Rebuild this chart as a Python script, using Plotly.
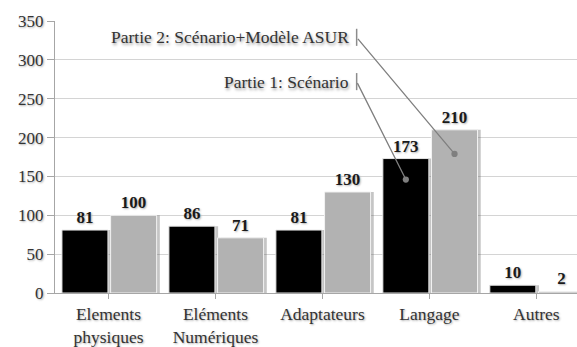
import plotly.graph_objects as go

categories = ["Elements<br>physiques", "Eléments<br>Numériques", "Adaptateurs", "Langage", "Autres"]
partie1 = [81, 86, 81, 173, 10]
partie2 = [100, 71, 130, 210, 2]
series_names = ["Partie 1: Scénario", "Partie 2: Scénario+Modèle ASUR"]
y_ticks = [0, 50, 100, 150, 200, 250, 300, 350]

serif = "Liberation Serif"
soft_shadow = "1px 1px 2px #b0b0b0"
label_font = dict(family=serif, size=17, color="#1a1a1a", weight="bold", shadow=soft_shadow)

xs = list(range(len(categories)))
bar_w = 0.43
series = [
    (partie1, series_names[0], "#000000", "#e6e6e6", -0.435),
    (partie2, series_names[1], "#b2b2b2", "#f2f2f2", 0.02),
]

fig = go.Figure()
# soft drop shadows behind each bar
for vals, name, color, edge, off in series:
    fig.add_trace(go.Bar(
        x=xs, y=vals, width=bar_w, offset=off + 0.03, hoverinfo="skip",
        marker=dict(color="rgba(90,90,90,0.35)", line=dict(width=0)),
    ))
for vals, name, color, edge, off in series:
    fig.add_trace(go.Bar(
        x=xs, y=vals, name=name, width=bar_w, offset=off,
        marker=dict(color=color, line=dict(color=edge, width=1)),
        text=[str(v) for v in vals], textposition="outside",
        textfont=label_font, cliponaxis=False,
    ))

# Callout labels pointing at the "Langage" bars
lang = categories.index("Langage")
callout_x = lang - 0.68
callouts = [
    (series_names[1], lang + 0.235, 179, 329),
    (series_names[0], lang - 0.22, 146, 272),
]
for text, xt, yt, ylab in callouts:
    fig.add_annotation(
        x=xt, y=yt, xref="x", yref="y",
        ax=callout_x, ay=ylab, axref="x", ayref="y",
        text="", showarrow=True, arrowhead=6, arrowsize=1.2,
        arrowwidth=1.3, arrowcolor="#7f7f7f", standoff=0, startstandoff=0,
    )
    fig.add_shape(type="line", xref="x", yref="y",
                  x0=callout_x, x1=callout_x, y0=ylab - 11, y1=ylab + 11,
                  line=dict(color="#8c8c8c", width=1.5))
    fig.add_annotation(
        x=callout_x - 0.05, y=ylab, xref="x", yref="y", xanchor="right",
        yanchor="middle", text=text, showarrow=False,
        font=dict(family=serif, size=17.5, color="#333333", shadow="1px 2px 3px #9a9a9a"),
    )

fig.update_layout(
    width=577, height=347,
    margin=dict(l=55, r=0, t=21, b=51),
    paper_bgcolor="white", plot_bgcolor="white",
    barmode="overlay",
    showlegend=False,
    font=dict(family=serif, size=17, color="#333333"),
)
fig.update_xaxes(
    tickmode="array", tickvals=xs, ticktext=categories,
    range=[-0.5, 4.38], showgrid=False, showline=True, linecolor="#a6a6a6",
    ticks="outside", ticklen=5, tickcolor="#a6a6a6", tickson="boundaries",
    tickfont=dict(family=serif, size=17.5, color="#333333", shadow=soft_shadow),
)
fig.update_yaxes(
    range=[0, 350], tickvals=y_ticks, showgrid=True, gridcolor="#d4d4d4",
    showline=True, linecolor="#a6a6a6", ticks="outside", ticklen=7,
    tickcolor="#a6a6a6", zeroline=False,
    tickfont=dict(family=serif, size=17, color="#333333", shadow=soft_shadow),
)

fig.write_html("out.html")
